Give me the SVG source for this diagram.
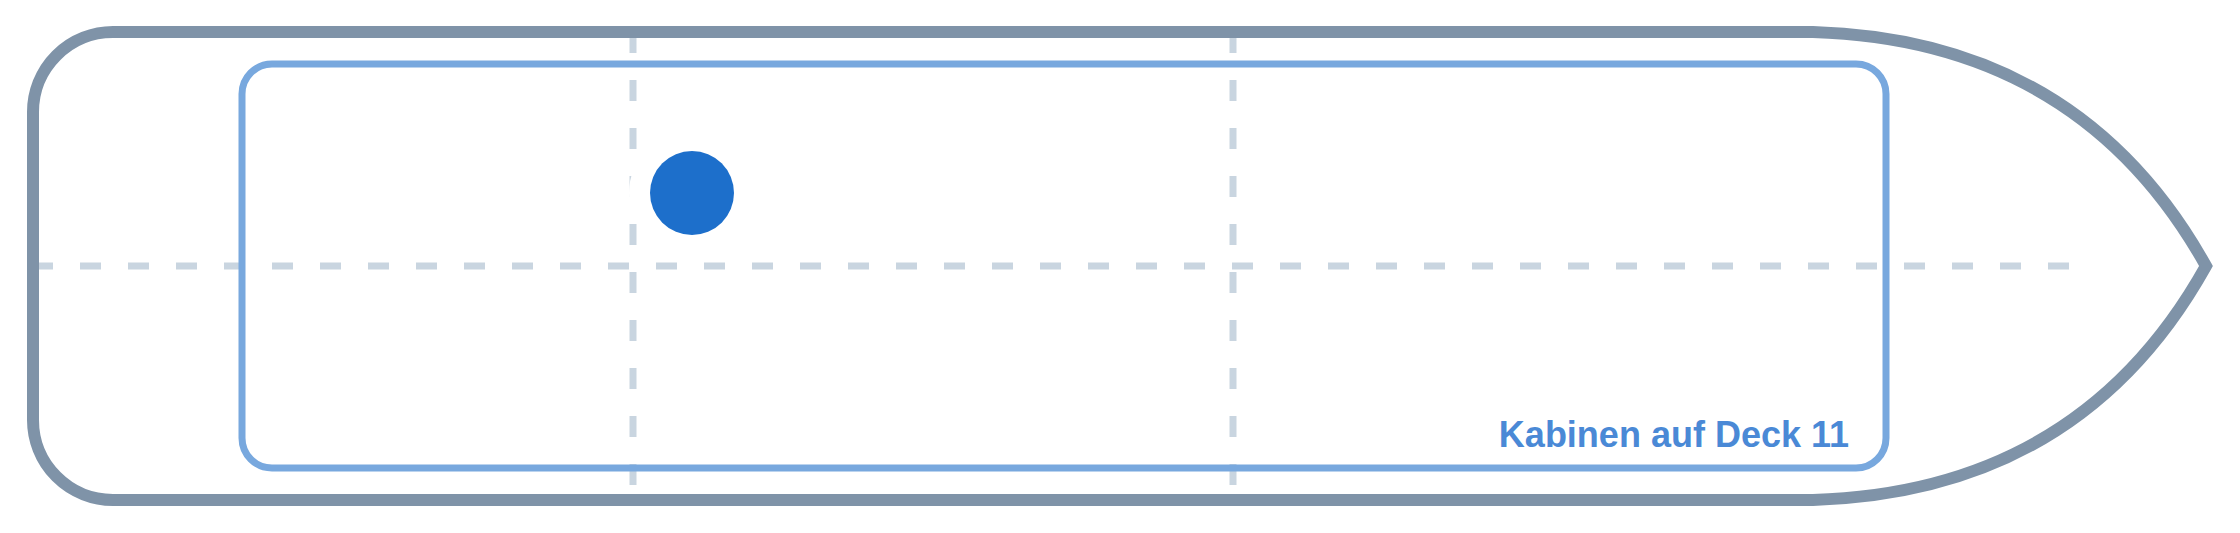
<svg xmlns="http://www.w3.org/2000/svg" width="2240" height="533" viewBox="0 0 2240 533">
  <style>
    .guide { fill: none; stroke: #c9d5e0; stroke-width: 7; stroke-dasharray: 21 27; }
    .hull { fill: none; stroke: #7f93a8; stroke-width: 12; stroke-linejoin: miter; }
    .deck { fill: none; stroke: #78a8de; stroke-width: 7; }
    .label { font-family: "Liberation Sans", Arial, sans-serif; font-weight: bold; font-size: 36px; fill: #4a89d6; }
  </style>
  <rect width="2240" height="533" fill="#ffffff"/>
  <g id="guides">
    <line class="guide" x1="32" y1="266" x2="2080" y2="266"/>
    <line class="guide" x1="633" y1="32" x2="633" y2="500"/>
    <line class="guide" x1="1233" y1="32" x2="1233" y2="500"/>
  </g>
  <g id="hull">
    <path class="hull" d="M 113 32 L 1813 32 Q 2080 40 2206 266 Q 2080 492 1813 500 L 113 500 A 80 80 0 0 1 33 420 L 33 112 A 80 80 0 0 1 113 32 Z"/>
  </g>
  <g id="deck">
    <rect class="deck" x="242" y="64" width="1644" height="404" rx="30" ry="30"/>
    <text class="label" x="1849" y="447" text-anchor="end">Kabinen auf Deck 11</text>
  </g>
  <g id="marker">
    <circle cx="692" cy="193" r="63" fill="#ffffff"/>
    <circle cx="692" cy="193" r="42" fill="#1d6fcb"/>
  </g>
</svg>
